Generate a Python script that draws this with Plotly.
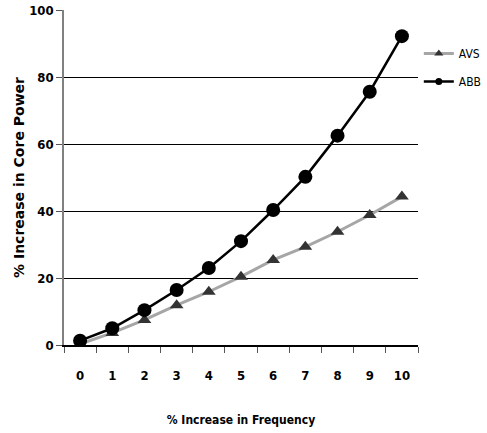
import plotly.graph_objects as go

freq = ["0", "1", "2", "3", "4", "5", "6", "7", "8", "9", "10"]
avs = [0.3, 3.6, 7.5, 11.9, 15.9, 20.4, 25.4, 29.3, 33.8, 38.8, 44.3]
abb = [1.3, 5.0, 10.4, 16.4, 23.0, 31.0, 40.3, 50.2, 62.5, 75.6, 92.2]
yticks = [0, 20, 40, 60, 80, 100]

narrow = "DejaVu Sans Condensed, Liberation Sans Narrow, sans-serif"

avs_line = dict(color="#a6a6a6", width=3)
abb_line = dict(color="#000000", width=2.5)

fig = go.Figure()
fig.add_trace(go.Scatter(
    x=freq, y=avs, name="AVS", mode="lines+markers", showlegend=False,
    line=avs_line, marker=dict(symbol="triangle-up", size=12, color="#333333"),
))
fig.add_trace(go.Scatter(
    x=freq, y=abb, name="ABB", mode="lines+markers", showlegend=False,
    line=abb_line, marker=dict(symbol="circle", size=14, color="#000000"),
))
# legend entries with small symbols, as in the reference
fig.add_trace(go.Scatter(
    x=[None], y=[None], name="AVS", mode="lines+markers", legendgroup="a",
    line=avs_line, marker=dict(symbol="triangle-up", size=8, color="#333333"),
))
fig.add_trace(go.Scatter(
    x=[None], y=[None], name="ABB", mode="lines+markers", legendgroup="b",
    line=abb_line, marker=dict(symbol="circle", size=7, color="#000000"),
))

fig.update_layout(
    width=487, height=433,
    margin=dict(l=64, r=69, t=10, b=88),
    plot_bgcolor="white", paper_bgcolor="white",
    font=dict(family=narrow, size=13, color="black"),
    legend=dict(xref="container", yref="container", x=0.86, y=0.91,
                xanchor="left", yanchor="top",
                font=dict(family=narrow, size=12, color="black"),
                itemwidth=30, tracegroupgap=9, bgcolor="rgba(0,0,0,0)"),
    xaxis=dict(
        type="category", tickson="boundaries", ticks="outside", ticklen=6,
        tickcolor="#555555", showline=True, linecolor="#000000", linewidth=1.5,
        showgrid=False, zeroline=False, automargin=False, ticklabelstandoff=18,
        tickfont=dict(family=narrow, size=13, color="black", weight="bold"),
        title=dict(text="% Increase in Frequency", standoff=33,
                   font=dict(family=narrow, size=12, color="black", weight="bold")),
        range=[-0.5, 10.5],
    ),
    yaxis=dict(
        range=[0, 100], tickvals=yticks, ticks="outside", ticklen=6,
        tickcolor="#555555", showline=True, linecolor="#808080", linewidth=1.5,
        showgrid=True, gridcolor="#000000", gridwidth=1, zeroline=False,
        automargin=False, ticklabeloverflow="allow",
        tickfont=dict(family=narrow, size=13, color="black", weight="bold"),
        title=dict(text="% Increase in Core Power", standoff=1,
                   font=dict(family="DejaVu Sans, sans-serif", size=14,
                             color="black", weight="bold")),
    ),
)

fig.write_html("out.html", config={"displayModeBar": False},
               post_script="document.body.style.margin='0';")
